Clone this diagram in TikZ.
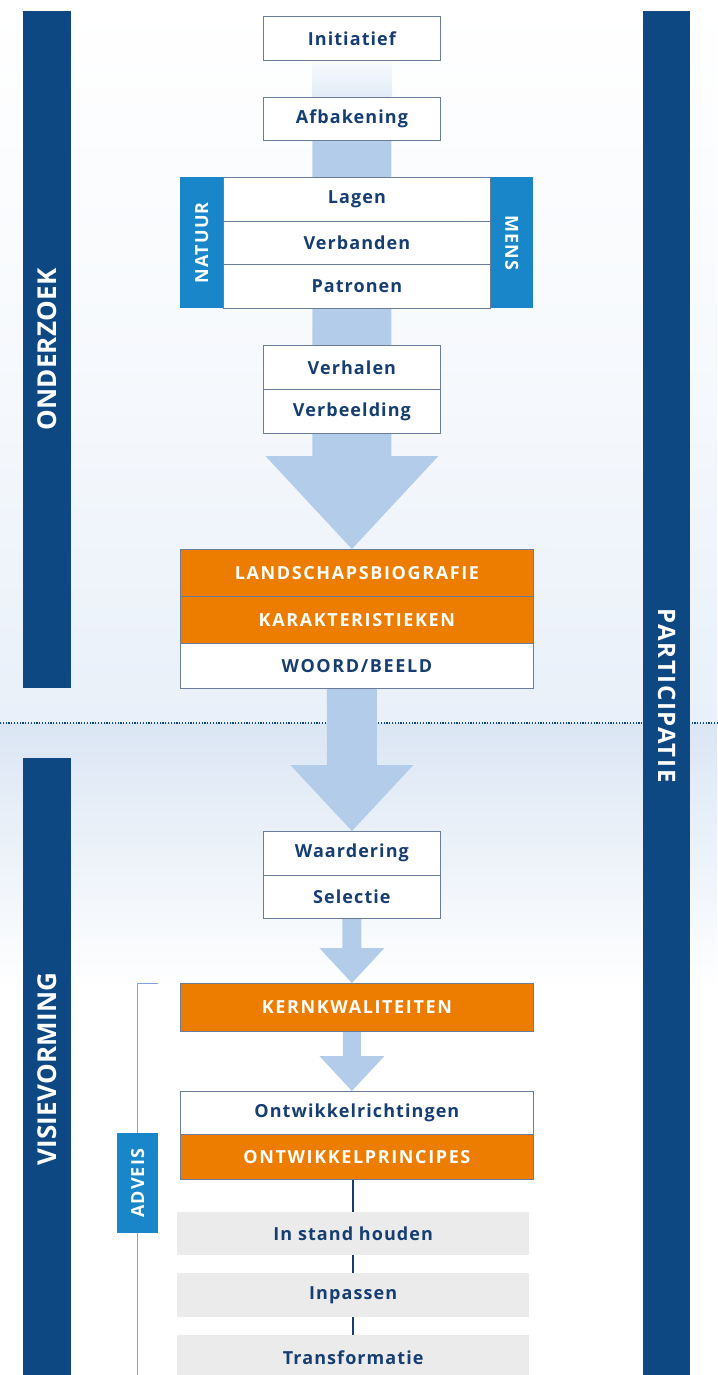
\documentclass[tikz,border=0pt]{standalone}
\usepackage{fontspec}
\setmainfont{Open Sans}
\newfontfamily\lbl{Open Sans}[LetterSpace=6]
\newfontfamily\caps{Open Sans}[LetterSpace=9]
\newfontfamily\barfnt{Open Sans}[LetterSpace=1]
\newfontfamily\parfnt{Open Sans}[LetterSpace=7]
\usetikzlibrary{calc}
\definecolor{navy}{RGB}{14,72,130}
\definecolor{bright}{RGB}{24,134,200}
\definecolor{orng}{RGB}{237,125,0}
\definecolor{txt}{RGB}{22,62,112}
\definecolor{edge}{RGB}{105,125,155}
\definecolor{arrowc}{RGB}{178,204,234}
\definecolor{bgA}{RGB}{233,240,249}
\definecolor{bgB}{RGB}{219,230,244}
\definecolor{greyb}{RGB}{235,235,236}
\definecolor{brk}{RGB}{125,165,215}
\pgfdeclarelayer{bglayer}
\pgfdeclarelayer{midlayer}
\pgfsetlayers{bglayer,midlayer,main}
\newcommand\lfs{\fontsize{18}{20}\selectfont}
\newcommand\blockarrow[5]{%
  \fill[arrowc] let \p1=(#1), \p2=(#2) in
  (\x1-#3,\y1) -- (\x1-#3,\y2+#5) -- (\x1-#4,\y2+#5) -- (\x1,\y2)
  -- (\x1+#4,\y2+#5) -- (\x1+#3,\y2+#5) -- (\x1+#3,\y1) -- cycle;}
\tikzset{
  sz/.style 2 args={minimum width=#1pt, minimum height=#2pt},
  wbox/.style={draw=edge, line width=0.8pt, fill=white, text=txt,
    font=\lbl\bfseries\lfs, inner sep=0pt, anchor=north west},
  capbox/.style={font=\caps\bfseries\lfs},
  obox/.style={wbox, capbox, fill=orng, text=white},
  gbox/.style={fill=greyb, text=txt, font=\lbl\bfseries\lfs,
    inner sep=0pt, anchor=north west},
  sidebox/.style={fill=bright, text=white, font=\lbl\bfseries\lfs,
    inner sep=0pt, anchor=north west},
  bar/.style={fill=navy, text=white, font=\barfnt\bfseries\fontsize{26}{28}\selectfont,
    inner sep=0pt, anchor=north west},
  conn/.style={draw=txt, line width=2pt},
  brack/.style={draw=brk, line width=1pt},
  dotline/.style={draw=navy, line width=1.3pt, dash pattern=on 1.2pt off 1.6pt},
}
\begin{document}
\begin{tikzpicture}[x=1pt,y=-1pt]
\useasboundingbox (0,0) rectangle (717,1375);
% side bars
\node[bar, sz={48}{677}] (onderzoek) at (23,11) {\rotatebox{90}{ONDERZOEK}};
\node[bar, sz={48}{622}] (visie) at (23,758) {\rotatebox{90}{VISIEVORMING}};
\node[bar, sz={47}{1369}, font=\parfnt\bfseries\fontsize{24}{26}\selectfont] (partic) at (643,11) {\rotatebox{-90}{PARTICIPATIE}};
% boxes
\node[wbox, sz={177}{44}] (init) at (263,16) {Initiatief};
\node[wbox, sz={177}{43}] (afb) at (263,97) {Afbakening};
\node[sidebox, sz={43}{131}] (natuur) at (180,177) {\rotatebox{90}{NATUUR}};
\node[sidebox, sz={43}{131}] (mens) at (490,177) {\rotatebox{-90}{MENS}};
\node[wbox, sz={267}{43.67}] (lagen) at (223,177) {Lagen};
\node[wbox, sz={267}{43.67}] (verb) at (223,220.67) {Verbanden};
\node[wbox, sz={267}{43.67}] (patr) at (223,264.33) {Patronen};
\node[wbox, sz={177}{44}] (verh) at (263,345) {Verhalen};
\node[wbox, sz={177}{44}] (verbe) at (263,389) {Verbeelding};
\node[obox, sz={353}{47}] (land) at (180,549) {LANDSCHAPSBIOGRAFIE};
\node[obox, sz={353}{47}] (kar) at (180,596) {KARAKTERISTIEKEN};
\node[wbox, capbox, sz={353}{45}] (woord) at (180,643) {WOORD/BEELD};
\node[wbox, sz={177}{43.5}] (waard) at (263,831) {Waardering};
\node[wbox, sz={177}{43.5}] (sel) at (263,874.5) {Selectie};
\node[obox, sz={353}{48}] (kern) at (180,983) {KERNKWALITEITEN};
\node[wbox, sz={353}{43}] (ontw) at (180,1091) {Ontwikkelrichtingen};
\node[obox, sz={353}{45}] (prin) at (180,1134) {ONTWIKKELPRINCIPES};
\node[gbox, sz={352}{43}] (stand) at (177,1212) {In stand houden};
\node[gbox, sz={352}{44}] (inpas) at (177,1273) {Inpassen};
\node[gbox, sz={352}{44}] (trans) at (177,1335) {Transformatie};
\node[sidebox, sz={41}{100}] (adveis) at (117,1133) {\rotatebox{90}{ADVEIS}};
% connectors between grey boxes
\draw[conn] (prin.south -| stand.north) -- (stand.north);
\draw[conn] (stand.south) -- (inpas.north);
\draw[conn] (inpas.south) -- (trans.north);
\coordinate (dl) at (0,723);
\coordinate (dr) at (717,723);
\coordinate (brtick) at (158,983);
\coordinate (brtop) at (137,983);
\coordinate (brbot) at (137,1380);
\begin{pgfonlayer}{bglayer}
  \shade[top color=white, bottom color=bgA!45] (0,0) rectangle (717,400);
  \shade[top color=bgA!45, bottom color=bgA] (0,400) rectangle (717,723);
  \shade[top color=bgB, bottom color=white] (0,723) rectangle (717,990);
\end{pgfonlayer}
\begin{pgfonlayer}{midlayer}
  \draw[dotline] (dl) -- (dr);
  \shade[top color=arrowc!8, bottom color=arrowc!40]
    ($(init.south)+(-39.5,0)$) rectangle ($(afb.north)+(39.5,0)$);
  \blockarrow{afb.south}{land.north -| afb.south}{39.5pt}{86.5pt}{93pt}
  \blockarrow{woord.south -| waard.north}{waard.north}{25pt}{61.5pt}{66pt}
  \blockarrow{sel.south}{kern.north -| sel.south}{9.5pt}{32.5pt}{35pt}
  \blockarrow{kern.south -| sel.south}{ontw.north -| sel.south}{9pt}{32.5pt}{35pt}
  \draw[brack] (brtick) -- (brtop) -- (adveis.north -| brtop);
  \draw[brack] (adveis.south -| brtop) -- (brbot);
\end{pgfonlayer}
\end{tikzpicture}
\end{document}
